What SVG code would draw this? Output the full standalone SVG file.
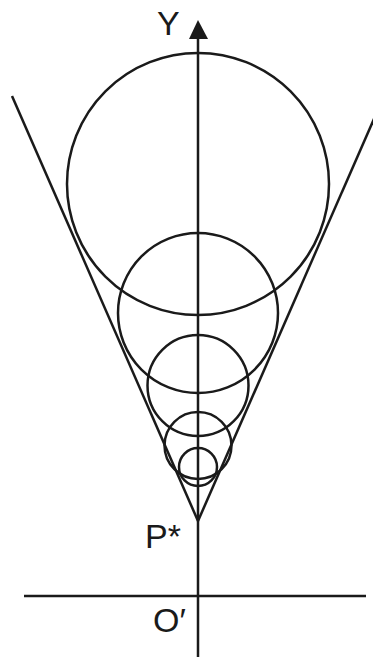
<svg xmlns="http://www.w3.org/2000/svg" width="373" height="657" viewBox="0 0 373 657">
<style>
.ln{stroke:#1a1a1a;stroke-width:2.5;fill:none;stroke-linecap:butt}
.lbl{font-family:"Liberation Sans",Arial,sans-serif;font-size:34px;fill:#1a1a1a}
</style>
<rect width="373" height="657" fill="#fff"/>
<g id="connectors">
<line class="ln" x1="198" y1="39" x2="198" y2="657"/>
<polygon points="198,20 189,39 208,39" fill="#1a1a1a"/>
<line class="ln" x1="24" y1="596" x2="366" y2="596"/>
<line class="ln" x1="12" y1="96" x2="198" y2="521"/>
<line class="ln" x1="384" y1="96" x2="198" y2="521"/>
</g>
<g id="circle1"><circle class="ln" cx="198" cy="184" r="131"/></g>
<g id="circle2"><circle class="ln" cx="198" cy="313" r="80"/></g>
<g id="circle3"><circle class="ln" cx="198" cy="385.5" r="50.5"/></g>
<g id="circle4"><circle class="ln" cx="198" cy="445.5" r="33.5"/></g>
<g id="circle5"><circle class="ln" cx="198" cy="467" r="19"/></g>
<g id="labelY"><text class="lbl" x="157" y="35">Y</text></g>
<g id="labelP"><text class="lbl" x="145" y="548">P*</text></g>
<g id="labelO"><text class="lbl" x="153" y="632">O′</text></g>
</svg>
